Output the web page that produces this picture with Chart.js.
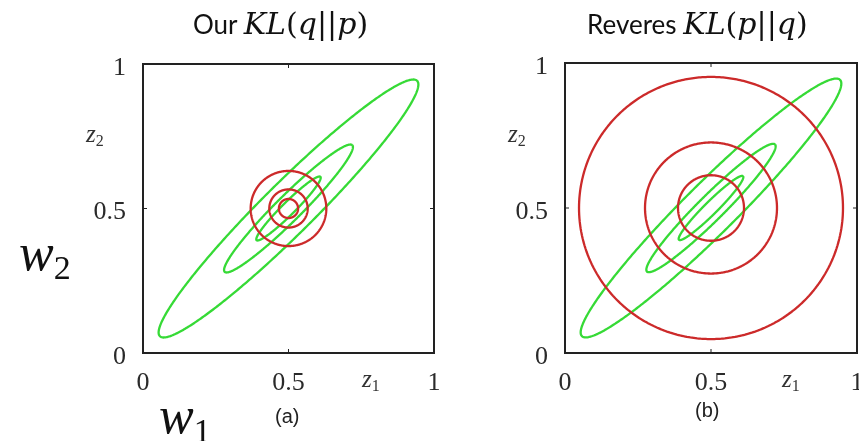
<!DOCTYPE html>
<html>
<head>
<meta charset="utf-8">
<script src="https://cdn.jsdelivr.net/npm/chart.js@4.4.1/dist/chart.umd.min.js"></script>
<style>
  body { margin: 0; background: #fff; width: 859px; height: 441px; overflow: hidden; position: relative; }
  .box { position: absolute; top: 0; height: 441px; }
  .lbl { position: absolute; white-space: nowrap; color: #111; line-height: 1; }
  .sans { font-family: "Lato", "Open Sans", sans-serif; font-size: 26px; }
  .math { font-family: "DejaVu Serif", serif; font-size: 30px; }
  .math i { font-style: italic; }
  .axname { font-family: "Liberation Serif", serif; font-style: italic; font-size: 25px; color: #333; }
  .axname sub { font-style: normal; font-size: 16px; vertical-align: -4px; }
  .w { font-family: "Liberation Serif", serif; font-style: italic; font-size: 52px; }
  .w sub { font-style: normal; font-size: 34px; vertical-align: -9px; }
  .cap { font-family: "Liberation Sans", sans-serif; font-size: 20px; color: #222; }
</style>
</head>
<body>
<div class="box" style="left:0;width:480px"><canvas id="chartA"></canvas></div>
<div class="box" style="left:480px;width:379px"><canvas id="chartB"></canvas></div>

<div class="lbl" style="left:193px;top:9px"><span class="sans">Our </span><span class="math"><i>KL</i>(<i>q</i>||<i>p</i>)</span></div>
<div class="lbl" style="left:587px;top:9px"><span class="sans">Reveres </span><span class="math"><i>KL</i>(<i>p</i>||<i>q</i>)</span></div>

<div class="lbl axname" style="left:86px;top:121px">z<sub>2</sub></div>
<div class="lbl axname" style="left:508px;top:121px">z<sub>2</sub></div>
<div class="lbl axname" style="left:362px;top:366px">z<sub>1</sub></div>
<div class="lbl axname" style="left:782px;top:366px">z<sub>1</sub></div>

<div class="lbl cap" style="left:275px;top:406px">(a)</div>
<div class="lbl cap" style="left:695px;top:400px">(b)</div>

<div class="lbl w" style="left:19px;top:227px">w<sub>2</sub></div>
<div class="lbl w" style="left:159px;top:390px">w<sub>1</sub></div>

<script>
// shared centre of every contour
const center = [0.5, 0.5];
// correlated gaussian p: contour semi-axes, tilted along the diagonal
const pAngle = 45;
const pMajor = [0.155, 0.31, 0.625];
const pMinor = [0.022, 0.044, 0.088];
// factorised q: circle radii for each divergence
const qRadiusA = [0.033, 0.066, 0.13];
const qRadiusB = [0.113, 0.226, 0.452];
// axis ticks
const tickValues = [0, 0.5, 1];
const tickLabels = ['0', '0.5', '1'];

const green = '#36da36';
const red = '#cc2a2a';

function contour(a, b, deg) {
  var pts = [];
  var t = deg * Math.PI / 180;
  for (var i = 0; i <= 240; i++) {
    var s = i / 240 * 2 * Math.PI;
    var u = a * Math.cos(s), v = b * Math.sin(s);
    pts.push({ x: center[0] + u * Math.cos(t) - v * Math.sin(t),
               y: center[1] + u * Math.sin(t) + v * Math.cos(t) });
  }
  return pts;
}

function makeDatasets(qRadius) {
  var sets = [];
  pMajor.forEach(function(a, i) {
    sets.push({ data: contour(a, pMinor[i], pAngle), borderColor: green, order: 1 });
  });
  qRadius.forEach(function(r) {
    sets.push({ data: contour(r, r, 0), borderColor: red, order: 0 });
  });
  sets.forEach(function(d) {
    // a little tension keeps the line off the fast path, which squashes vertical runs
    d.showLine = true; d.pointRadius = 0; d.borderWidth = 2.3; d.fill = false; d.tension = 0.1;
  });
  return sets;
}

// box around the plot with small inward ticks
const frame = {
  id: 'frame',
  afterDatasetsDraw: function(chart) {
    var ctx = chart.ctx, a = chart.chartArea, x = chart.scales.x, y = chart.scales.y;
    ctx.save();
    ctx.strokeStyle = '#222';
    ctx.lineWidth = 2;
    ctx.strokeRect(a.left, a.top, a.right - a.left, a.bottom - a.top);
    ctx.lineWidth = 1;
    ctx.beginPath();
    tickValues.forEach(function(v) {
      var px = x.getPixelForValue(v), py = y.getPixelForValue(v);
      ctx.moveTo(px, a.bottom); ctx.lineTo(px, a.bottom - 4);
      ctx.moveTo(px, a.top); ctx.lineTo(px, a.top + 4);
      ctx.moveTo(a.left, py); ctx.lineTo(a.left + 4, py);
      ctx.moveTo(a.right, py); ctx.lineTo(a.right - 4, py);
    });
    ctx.stroke();
    ctx.restore();
  }
};

function axis(isX) {
  return {
    type: 'linear', min: 0, max: 1,
    afterBuildTicks: function(s) { s.ticks = tickValues.map(function(v) { return { value: v }; }); },
    ticks: {
      callback: function(v) { return tickLabels[tickValues.indexOf(v)]; },
      font: { family: 'Liberation Serif', size: 26 },
      color: '#2a2a2a',
      padding: isX ? 7 : 9,
      labelOffset: isX ? 0 : 4,
      maxRotation: 0,
      autoSkip: false
    },
    grid: { display: false },
    border: { display: false },
    afterFit: function(s) {
      if (isX) s.height = 50; else s.width = 60;
      s.paddingLeft = 0; s.paddingRight = 0; s.paddingTop = 0; s.paddingBottom = 0;
    }
  };
}

function draw(id, qRadius, pad) {
  return new Chart(document.getElementById(id), {
    type: 'scatter',
    data: { datasets: makeDatasets(qRadius) },
    options: {
      responsive: true,
      maintainAspectRatio: false,
      animation: false,
      events: [],
      layout: { padding: pad },
      plugins: { legend: { display: false }, tooltip: { enabled: false } },
      scales: { x: axis(true), y: axis(false) }
    },
    plugins: [frame]
  });
}

draw('chartA', qRadiusA, { left: 83, right: 46, top: 64, bottom: 38 });
draw('chartB', qRadiusB, { left: 25, right: 2, top: 63, bottom: 38 });
</script>
</body>
</html>
